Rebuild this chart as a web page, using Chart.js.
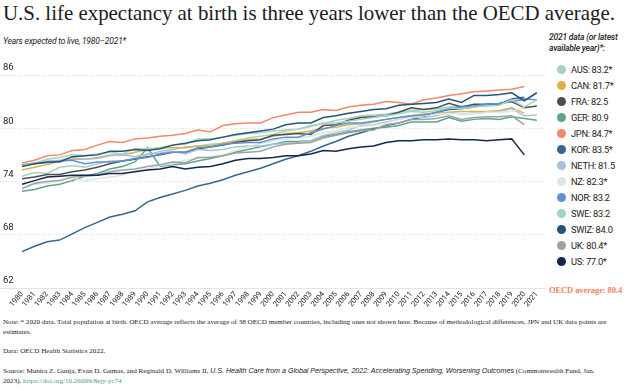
<!DOCTYPE html>
<html>
<head>
<meta charset="utf-8">
<script src="https://cdn.jsdelivr.net/npm/chart.js@4.4.0/dist/chart.umd.min.js"></script>
<style>
  body { margin: 0; width: 630px; height: 391px; overflow: hidden; background: #fff; position: relative; color: #1c1c1c; }
  #wrap { position: absolute; left: 0; top: 0; width: 630px; height: 391px; }
  .title { position: absolute; left: 3px; top: 1px; font-family: "Liberation Serif", serif; font-size: 20.9px; white-space: nowrap; }
  .sub { position: absolute; left: 3px; top: 36px; font-family: Roboto, sans-serif; font-style: italic; font-size: 8.5px; letter-spacing: -0.2px; }
  .legtitle { position: absolute; left: 549px; top: 32px; font-family: Roboto, sans-serif; font-style: italic; font-weight: 500; font-size: 8.5px; line-height: 11px; letter-spacing: -0.2px; }
  .item { position: absolute; left: 557px; font-family: Roboto, sans-serif; font-size: 9.3px; letter-spacing: -0.3px; white-space: nowrap; line-height: 10px; }
  .dot { display: inline-block; width: 9px; height: 9px; border-radius: 50%; vertical-align: -1px; margin-right: 5px; }
  .oecd { position: absolute; left: 549px; top: 285px; font-family: "Liberation Serif", serif; font-weight: bold; font-size: 8.5px; letter-spacing: -0.1px; color: #f4815f; white-space: nowrap; }
  .note { position: absolute; left: 3px; font-family: "Liberation Serif", serif; font-size: 7.1px; color: #222; white-space: nowrap; }
  .note i { font-family: "Liberation Sans", sans-serif; }
  .note a { color: #4a9a8a; text-decoration: none; }
</style>
</head>
<body>
<div class="title">U.S. life expectancy at birth is three years lower than the OECD average.</div>
<div class="sub">Years expected to live, 1980–2021*</div>
<div class="legtitle">2021 data (or latest<br>available year)*:</div>
<div id="legend"></div>
<div class="oecd">OECD average: 80.4</div>
<div class="note" style="top:318px">Note: * 2020 data. Total population at birth. OECD average reflects the average of 38 OECD member countries, including ones not shown here. Because of methodological differences, JPN and UK data points are</div>
<div class="note" style="top:328px">estimates.</div>
<div class="note" style="top:347px">Data: OECD Health Statistics 2022.</div>
<div class="note" style="top:367px">Source: Munira Z. Gunja, Evan D. Gumas, and Reginald D. Williams II, <i>U.S. Health Care from a Global Perspective, 2022: Accelerating Spending, Worsening Outcomes</i> (Commonwealth Fund, Jan.</div>
<div class="note" style="top:377px">2023). <a>https://doi.org/10.26099/8ejy-yc74</a></div>
<div id="wrap"><canvas id="chart"></canvas></div>
<script>
const years = [1980, 1981, 1982, 1983, 1984, 1985, 1986, 1987, 1988, 1989, 1990,
  1991, 1992, 1993, 1994, 1995, 1996, 1997, 1998, 1999, 2000,
  2001, 2002, 2003, 2004, 2005, 2006, 2007, 2008, 2009, 2010,
  2011, 2012, 2013, 2014, 2015, 2016, 2017, 2018, 2019, 2020, 2021];

const countries = ['AUS', 'CAN', 'FRA', 'GER', 'JPN', 'KOR', 'NETH', 'NZ', 'NOR', 'SWE', 'SWIZ', 'UK', 'US'];
const latest = ['83.2*', '81.7*', '82.5', '80.9', '84.7*', '83.5*', '81.5', '82.3*', '83.2', '83.2', '84.0', '80.4*', '77.0*'];
const colors = ['#a9cfc2', '#e0b048', '#4b504e', '#5ca58b', '#f4886a', '#356790', '#a9c2da', '#dbe8e3', '#5d92d6', '#a3d5bf', '#275377', '#a0a0a0', '#14284b'];

// life expectancy, 1980 onward (series marked * stop at 2020)
const aus = [74.6, 75.0, 74.9, 75.6, 75.8, 75.6, 76.0, 76.3, 76.3, 76.6, 77.0, 77.4, 77.6, 77.9, 78.0, 78.2, 78.3, 78.6, 78.9, 79.1, 79.3, 79.7, 79.9, 80.3, 80.5, 80.9, 81.1, 81.4, 81.5, 81.6, 81.8, 82.0, 82.1, 82.2, 82.4, 82.5, 82.5, 82.5, 82.8, 83.0, 83.2];
const can = [75.3, 75.6, 75.9, 76.3, 76.5, 76.5, 76.7, 77.0, 77.0, 77.3, 77.6, 77.8, 77.8, 77.8, 78.0, 78.0, 78.3, 78.5, 78.7, 78.8, 79.1, 79.4, 79.5, 79.7, 80.0, 80.1, 80.4, 80.5, 80.7, 81.0, 81.2, 81.4, 81.6, 81.7, 81.8, 81.9, 81.9, 81.9, 82.0, 82.3, 81.7];
const fra = [74.3, 74.5, 74.8, 74.8, 75.1, 75.3, 75.6, 76.0, 76.3, 76.5, 76.8, 77.0, 77.3, 77.3, 77.7, 77.9, 78.1, 78.4, 78.6, 78.7, 79.2, 79.3, 79.4, 79.3, 80.3, 80.4, 80.9, 81.2, 81.3, 81.4, 81.8, 82.3, 82.1, 82.3, 82.8, 82.4, 82.7, 82.7, 82.8, 83.0, 82.3, 82.5];
const ger = [72.9, 73.1, 73.5, 73.7, 74.1, 74.6, 74.9, 75.4, 75.7, 76.2, 77.8, 75.7, 75.9, 76.0, 76.3, 76.6, 76.9, 77.3, 77.6, 77.9, 78.2, 78.5, 78.5, 78.6, 79.1, 79.3, 79.6, 79.8, 80.0, 80.1, 80.3, 80.7, 80.7, 80.7, 81.2, 80.8, 81.0, 81.1, 81.0, 81.3, 81.1, 80.9];
const jpn = [76.1, 76.4, 76.9, 77.0, 77.5, 77.6, 78.1, 78.5, 78.4, 78.8, 78.9, 79.1, 79.2, 79.4, 79.8, 79.6, 80.3, 80.5, 80.6, 80.6, 81.2, 81.5, 81.8, 81.8, 82.1, 82.0, 82.4, 82.6, 82.7, 83.0, 82.9, 82.7, 83.2, 83.4, 83.7, 83.9, 84.1, 84.2, 84.3, 84.4, 84.7];
const kor = [66.1, 66.7, 67.2, 67.4, 68.1, 68.8, 69.4, 70.0, 70.3, 70.7, 71.7, 72.2, 72.6, 73.0, 73.5, 73.8, 74.2, 74.7, 75.1, 75.5, 76.0, 76.5, 76.9, 77.4, 78.0, 78.5, 79.1, 79.5, 79.9, 80.3, 80.6, 81.0, 81.3, 81.8, 82.1, 82.2, 82.4, 82.7, 82.7, 83.3, 83.5];
const neth = [75.9, 76.1, 76.3, 76.4, 76.7, 76.5, 76.6, 76.9, 77.0, 76.8, 77.1, 77.2, 77.4, 77.1, 77.6, 77.5, 77.6, 77.9, 78.0, 78.0, 78.2, 78.3, 78.4, 78.6, 79.2, 79.5, 79.8, 80.3, 80.4, 80.7, 81.0, 81.3, 81.2, 81.4, 81.8, 81.6, 81.7, 81.8, 81.9, 82.2, 81.4, 81.5];
const nz = [73.2, 73.7, 73.8, 74.1, 74.4, 74.1, 74.3, 74.5, 74.7, 75.2, 75.4, 75.8, 76.0, 76.4, 76.6, 76.8, 77.0, 77.5, 77.9, 78.3, 78.6, 78.8, 78.9, 79.1, 79.5, 79.7, 80.1, 80.2, 80.3, 80.6, 81.0, 81.2, 81.4, 81.6, 81.6, 81.7, 81.6, 81.8, 81.8, 81.9, 82.3];
const nor = [75.9, 76.0, 76.1, 76.3, 76.4, 76.0, 76.2, 76.2, 76.3, 76.6, 76.7, 77.1, 77.3, 77.3, 77.8, 77.9, 78.2, 78.3, 78.4, 78.4, 78.8, 79.0, 79.0, 79.5, 79.9, 80.3, 80.6, 80.6, 80.8, 81.0, 81.2, 81.4, 81.5, 81.8, 82.2, 82.4, 82.5, 82.7, 82.8, 83.0, 83.3, 83.2];
const swe = [75.8, 76.1, 76.5, 76.7, 77.0, 76.9, 77.1, 77.3, 77.1, 77.7, 77.7, 77.8, 78.1, 78.2, 78.8, 78.8, 79.0, 79.2, 79.4, 79.5, 79.7, 79.8, 79.9, 80.2, 80.6, 80.6, 80.8, 81.0, 81.2, 81.4, 81.6, 81.9, 81.8, 82.0, 82.3, 82.2, 82.4, 82.5, 82.6, 83.2, 82.4, 83.2];
const swiz = [75.7, 76.0, 76.2, 76.2, 76.8, 76.9, 77.0, 77.4, 77.4, 77.6, 77.5, 77.7, 78.1, 78.3, 78.6, 78.7, 79.0, 79.3, 79.5, 79.7, 79.9, 80.4, 80.6, 80.6, 81.2, 81.4, 81.7, 81.9, 82.1, 82.2, 82.6, 82.7, 82.8, 82.9, 83.3, 82.9, 83.7, 83.7, 83.8, 84.0, 83.1, 84.0];
const uk = [73.2, 73.8, 74.0, 74.1, 74.5, 74.6, 74.7, 75.1, 75.3, 75.4, 75.7, 75.9, 76.2, 76.1, 76.7, 76.7, 76.9, 77.2, 77.3, 77.4, 77.9, 78.2, 78.3, 78.4, 78.9, 79.2, 79.5, 79.7, 79.8, 80.4, 80.6, 81.0, 81.0, 81.1, 81.4, 81.0, 81.2, 81.3, 81.3, 81.4, 80.4];
const us = [73.7, 74.1, 74.5, 74.6, 74.7, 74.7, 74.7, 74.9, 74.9, 75.1, 75.3, 75.4, 75.7, 75.4, 75.6, 75.7, 76.0, 76.4, 76.6, 76.6, 76.7, 76.9, 76.9, 77.1, 77.5, 77.4, 77.7, 77.9, 78.0, 78.4, 78.6, 78.6, 78.7, 78.7, 78.8, 78.7, 78.7, 78.6, 78.7, 78.8, 77.0];

const series = [aus, can, fra, ger, jpn, kor, neth, nz, nor, swe, swiz, uk, us];
const yTicks = [62, 68, 74, 80, 86];

// legend on the right
const legend = document.getElementById('legend');
countries.forEach((c, i) => {
  const div = document.createElement('div');
  div.className = 'item';
  div.style.top = (65 + i * 16) + 'px';
  div.innerHTML = '<span class="dot" style="background:' + colors[i] + '"></span>' + c + ': ' + latest[i];
  legend.appendChild(div);
});

const datasets = series.map((vals, i) => ({
  label: countries[i],
  data: vals.map((v, j) => ({ x: years[j], y: v })),
  borderColor: colors[i],
  borderWidth: 1.5,
  pointRadius: 0,
  tension: 0,
  fill: false
}));
// US on top, as in the original
datasets.reverse();

const ctx = document.getElementById('chart').getContext('2d');
new Chart(ctx, {
  type: 'line',
  data: { datasets: datasets },
  options: {
    responsive: true,
    maintainAspectRatio: false,
    animation: false,
    layout: { padding: { left: 0, right: 85, top: 75, bottom: 81 } },
    plugins: { legend: { display: false }, tooltip: { enabled: false } },
    scales: {
      x: {
        type: 'linear',
        min: 1978.25,
        max: 2021.65,
        afterBuildTicks: s => { s.ticks = years.map(v => ({ value: v })); },
        afterFit: s => { s.height = 22; },
        grid: { display: false, drawTicks: false },
        border: { display: true, color: '#e4e4e4', width: 1 },
        ticks: {
          autoSkip: false,
          minRotation: 50,
          maxRotation: 50,
          padding: 2,
          color: '#222',
          font: { family: 'Roboto', size: 7.5 },
          callback: v => String(v)
        }
      },
      y: {
        min: 62,
        max: 86,
        afterBuildTicks: s => { s.ticks = yTicks.map(v => ({ value: v })); },
        afterFit: s => { s.width = 0; },
        grid: {
          drawTicks: false,
          color: c => c.tick && c.tick.value === 62 ? 'rgba(0,0,0,0)' : '#d9d9d9',
          lineWidth: 1
        },
        border: { display: false, dash: [1, 2] },
        ticks: {
          mirror: true,
          padding: 3,
          labelOffset: -7,
          color: '#222',
          font: { family: 'Roboto', size: 9.5 }
        }
      }
    }
  }
});
</script>
</body>
</html>
